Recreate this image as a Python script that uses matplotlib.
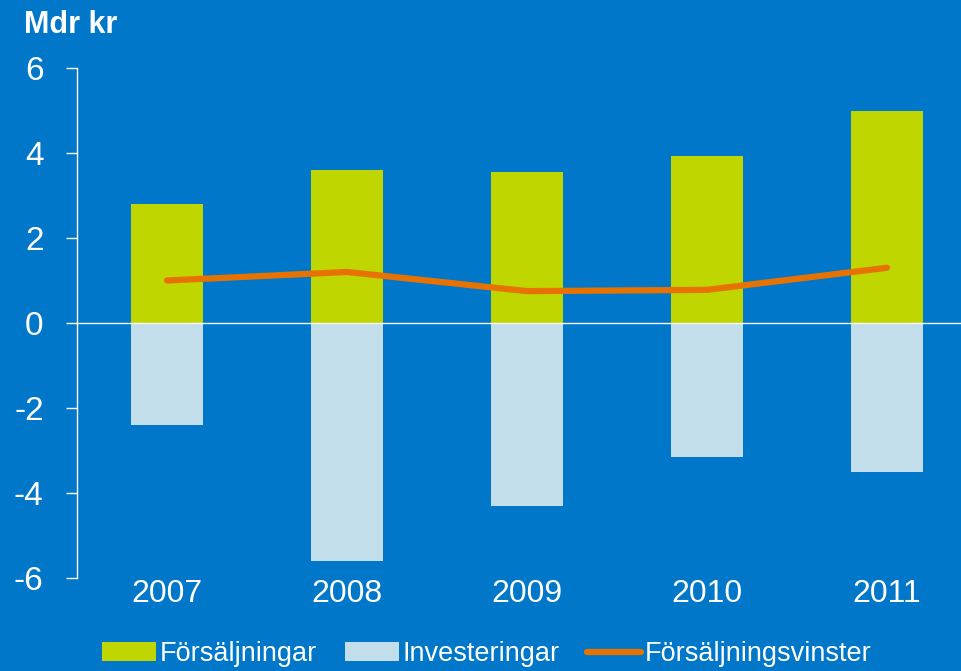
import numpy as np
import matplotlib.pyplot as plt

plt.rcParams['font.family'] = ['Liberation Sans', 'DejaVu Sans']
plt.rcParams['axes.unicode_minus'] = False

years = ["2007", "2008", "2009", "2010", "2011"]
forsaljningar = [2.8, 3.6, 3.55, 3.93, 5.0]
investeringar = [-2.4, -5.6, -4.3, -3.15, -3.5]
vinster = [1.0, 1.2, 0.75, 0.78, 1.3]

bg = "#0077C8"
green = "#BFD600"
lightblue = "#C2DEEA"
orange = "#E87200"

fig = plt.figure(figsize=(9.61, 6.71), dpi=100, facecolor=bg)
W, H = 961, 671
ax = fig.add_axes([77 / W, 93 / H, 884 / W, 510 / H])
ax.set_facecolor(bg)

x = np.arange(len(years))
b1 = ax.bar(x, forsaljningar, width=0.4, color=green, label="Försäljningar", zorder=2)
b2 = ax.bar(x, investeringar, width=0.4, color=lightblue, label="Investeringar", zorder=2)
l1, = ax.plot(x, vinster, color=orange, lw=4.5, solid_capstyle="round", label="Försäljningsvinster", zorder=3)
ax.axhline(0, color="white", lw=1, zorder=4)

ax.set_xlim(-0.5, -0.5 + 884 / 180)
ax.set_ylim(-6, 6)
ax.set_yticks([-6, -4, -2, 0, 2, 4, 6])
ax.set_xticks(x)
ax.set_xticklabels(years)

for s in ["top", "right", "bottom"]:
    ax.spines[s].set_visible(False)
ax.spines["left"].set_color("white")
ax.spines["left"].set_linewidth(1)
ax.tick_params(axis="y", colors="white", labelsize=24, length=8, width=1, pad=16)
ax.tick_params(axis="x", colors="white", labelsize=23, length=0, pad=1)

fig.text(24 / W, 1 - 10 / H, "Mdr kr", color="white", fontsize=22, fontweight="bold", va="top", ha="left")

leg = fig.legend([b1, b2, l1], ["Försäljningar", "Investeringar", "Försäljningsvinster"],
                 loc="center", bbox_to_anchor=(487 / W, 1 - 654 / H), ncol=3, frameon=False,
                 fontsize=19.5, handlelength=2.0, handletextpad=0.15, columnspacing=1.0)
for t in leg.get_texts():
    t.set_color("white")

fig.savefig("out.png", dpi=100, facecolor=bg)
